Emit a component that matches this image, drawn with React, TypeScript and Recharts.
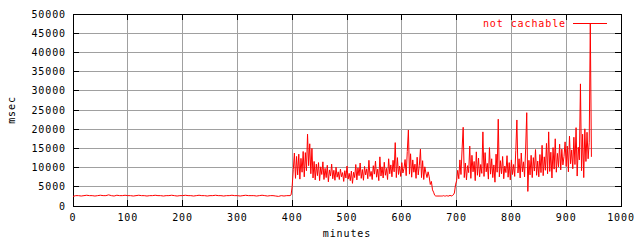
import React from 'react';
import {
  LineChart, Line, XAxis, YAxis, CartesianGrid, ReferenceArea, Legend,
} from 'recharts';

// tick labels
const xTicks = [0, 100, 200, 300, 400, 500, 600, 700, 800, 900, 1000];
const yTicks = [0, 5000, 10000, 15000, 20000, 25000, 30000, 35000, 40000, 45000, 50000];

// quiet stretch, minutes 0..390 every 5 min
const quietMsec = [
  2500, 2700, 2700, 2600, 2700, 2800, 2700, 2700, 2600, 2700,
  2800, 2700, 2700, 2900, 2700, 2600, 2800, 2700, 2700, 2800,
  2700, 2700, 2600, 2700, 2800, 2700, 2700, 2600, 2700, 2700,
  2800, 2700, 2700, 2600, 2700, 2700, 2800, 2700, 2600, 2700,
  2700, 2800, 2700, 2700, 2600, 2700, 2800, 2700, 2700, 2600,
  2700, 2700, 2800, 2700, 2700, 2600, 2700, 2700, 2800, 2700,
  2700, 2600, 2700, 2800, 2700, 2700, 2700, 2600, 2700, 2800,
  2700, 2600, 2700, 2700, 2600, 2500, 2700, 2600, 2700,
];

// first busy stretch, minutes 396..648 every 2 min
const busyMsec = [
  2700, 2900, 5200, 9500, 13800, 7200, 12900, 8100, 13500, 7000,
  12400, 8800, 14200, 7600, 13900, 9200, 18700, 10500, 16200, 8400,
  15000, 7300, 11600, 6800, 10900, 7900, 11300, 6600, 10200, 8200,
  11500, 6900, 9800, 7400, 10600, 6300, 9400, 7800, 10900, 7100,
  9300, 6700, 10100, 7500, 8900, 6900, 9600, 7600, 8700, 6400,
  9200, 7300, 10400, 7000, 8500, 6600, 9100, 5900, 8800, 7400,
  10800, 6800, 9900, 7900, 11200, 7200, 9500, 6700, 10300, 8100,
  9700, 7100, 11900, 7700, 9000, 6900, 10500, 8300, 11700, 7500,
  9600, 6600, 12800, 7800, 10200, 7300, 11400, 8000, 9800, 6900,
  12300, 8400, 10700, 7600, 11900, 8900, 16500, 7400, 12600, 8200,
  10400, 7700, 11300, 8600, 9800, 12100, 7900, 14200, 19800, 8300,
  13600, 7500, 12000, 8800, 10900, 7200, 12700, 8100, 10600, 14800,
  7400, 11800, 6900, 10200, 8600, 7400, 8900,
];

// dip, minutes 650..696 every 2 min
const dipMsec = [
  7600, 5600, 6400, 4200, 3600, 2800, 2600, 2600, 2600, 2600,
  2600, 2600, 2600, 2700, 2600, 2600, 2700, 2600, 2600, 2800,
  2600, 2700, 2900, 3400,
];

// second busy stretch, minutes 698..946 every 2 min
const lateMsec = [
  5500, 6600, 9300, 7100, 12000, 8200, 14800, 20500, 7400, 11200,
  6800, 10500, 8700, 15600, 7200, 13200, 8900, 11600, 6600, 14100,
  8000, 12500, 7600, 10800, 8500, 19300, 7700, 13900, 8900, 11100,
  7000, 15200, 8300, 12300, 7400, 10700, 6200, 13500, 8800, 22600,
  7600, 11800, 8400, 12900, 7100, 10400, 8700, 13100, 7500, 11300,
  6800, 12000, 8200, 10800, 7700, 14400, 22400, 8600, 12300, 7300,
  13800, 8900, 11500, 7600, 14900, 24300, 3800, 11900, 8100, 13200,
  7400, 12600, 9100, 14700, 8000, 11700, 7600, 13400, 8700, 15800,
  7900, 12800, 9300, 16300, 8400, 19300, 9000, 14000, 7300, 15200,
  9600, 17500, 8800, 13700, 10200, 16100, 9400, 14800, 10700, 12900,
  16700, 10300, 15600, 8900, 18200, 11000, 14600, 9700, 17900, 10800,
  20400, 7800, 15300, 12000, 31800, 9200, 18700, 7400, 20100, 11600,
  19200, 12300, 16600, 47500, 12800,
];

const segments = [
  { start: 0, step: 5, values: quietMsec },
  { start: 396, step: 2, values: busyMsec },
  { start: 650, step: 2, values: dipMsec },
  { start: 698, step: 2, values: lateMsec },
];

const data = segments.flatMap((s) =>
  s.values.map((v, i) => ({ minute: s.start + i * s.step, msec: v }))
);

const PLOT = { left: 73, right: 621, top: 14, bottom: 206 };
const FONT = '"DejaVu Sans Mono", monospace';
const TXT = { fontFamily: FONT, fontSize: 10, letterSpacing: 0.9 };
const CRISP = { shapeRendering: 'crispEdges' as const };

const XTick = ({ x, payload }: any) => (
  <g style={CRISP}>
    <line x1={x} x2={x} y1={PLOT.bottom} y2={PLOT.bottom - 6} stroke="#000" />
    <line x1={x} x2={x} y1={PLOT.top} y2={PLOT.top + 6} stroke="#000" />
    <text x={x} y={221} textAnchor="middle" fill="#000" style={TXT}>{payload.value}</text>
  </g>
);

const YTick = ({ y, payload }: any) => (
  <g style={CRISP}>
    <line x1={PLOT.left} x2={PLOT.left + 6} y1={y} y2={y} stroke="#000" />
    <line x1={PLOT.right} x2={PLOT.right - 6} y1={y} y2={y} stroke="#000" />
    <text x={66} y={y + 3.6} textAnchor="end" fill="#000" style={TXT}>{payload.value}</text>
  </g>
);

const LegendBox = () => (
  <svg width={150} height={20} style={{ display: 'block' }}>
    <text x={96} y={12.7} textAnchor="end" fill="#ff0000" style={TXT}>not cachable</text>
    <rect x={103} y={9} width={34} height={1} fill="#ff0000" />
  </svg>
);

export default function App() {
  return (
    <div style={{ position: 'absolute', left: 0, top: 0, width: 640, height: 240, background: '#fff' }}>
      <LineChart width={640} height={240} data={data} margin={{ top: 14, right: 19, bottom: 0, left: 0 }}>
        <CartesianGrid stroke="#a0a0a0" style={CRISP} />
        <XAxis
          dataKey="minute"
          type="number"
          domain={[0, 1000]}
          ticks={xTicks}
          height={34}
          axisLine={false}
          tickLine={false}
          tick={<XTick />}
          interval={0}
          label={{
            content: () => (
              <text x={347} y={237} textAnchor="middle" fill="#000" style={TXT}>minutes</text>
            ),
          }}
        />
        <YAxis
          type="number"
          domain={[0, 50000]}
          ticks={yTicks}
          width={73}
          axisLine={false}
          tickLine={false}
          tick={<YTick />}
          interval={0}
          label={{
            content: () => (
              <text x={15} y={110} textAnchor="middle" fill="#000" transform="rotate(-90 15 110)" style={TXT}>msec</text>
            ),
          }}
        />
        <Line
          dataKey="msec"
          type="linear"
          stroke="#ff0000"
          strokeWidth={1}
          dot={false}
          isAnimationActive={false}
        />
        <ReferenceArea x1={0} x2={1000} y1={0} y2={50000} fill="none" stroke="#000" strokeOpacity={1} fillOpacity={0} ifOverflow="visible" style={CRISP} />
        <Legend
          layout="horizontal"
          verticalAlign="middle"
          align="center"
          wrapperStyle={{ position: 'absolute', left: 470, top: 14, width: 150, height: 20 }}
          content={LegendBox}
        />
      </LineChart>
    </div>
  );
}
